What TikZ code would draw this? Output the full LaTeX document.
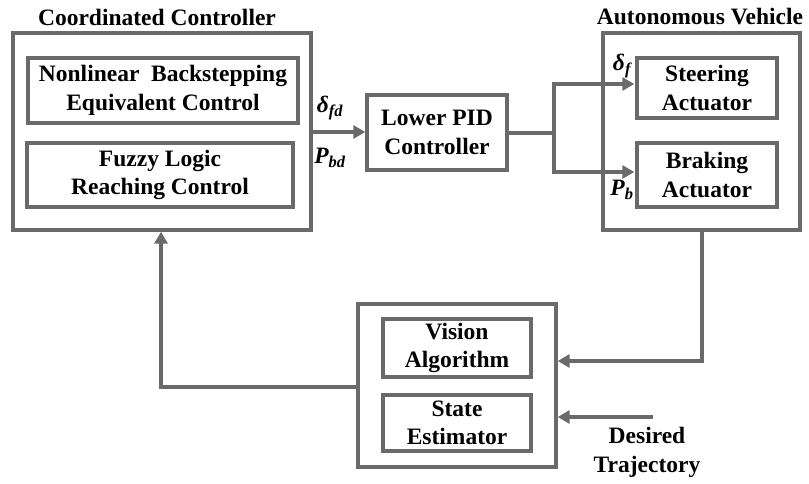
\documentclass[tikz,border=0pt]{standalone}
\usepackage{fontspec}
\setmainfont{Liberation Serif}
\usetikzlibrary{arrows.meta}
\definecolor{lc}{HTML}{6A6A6A}
\tikzset{
  box/.style={draw=lc, line width=3.4pt, align=center, inner sep=0pt,
    font=\fontsize{23.5}{28.5}\selectfont\bfseries, text=black},
  conn/.style={draw=lc, line width=3.4pt},
  arr/.style={conn, -{Triangle[length=12pt,width=13pt]}},
  lbl/.style={font=\fontsize{23.5}{29}\selectfont\bfseries, text=black, align=center, inner sep=0pt},
  sym/.style={font=\fontsize{23.5}{26}\selectfont\bfseries\itshape, text=black, inner sep=0pt}
}
\begin{document}
\begin{tikzpicture}[x=1pt,y=-1pt]
\useasboundingbox (0,0) rectangle (809,483);
% outer boxes
\node[box, minimum width=298pt, minimum height=197pt] (cc) at (162,131.5) {};
\node[box, minimum width=197pt, minimum height=197pt] (av) at (701.5,131.5) {};
\node[box, minimum width=198pt, minimum height=163pt] (est) at (457,385.5) {};
% inner boxes
\node[box, minimum width=270pt, minimum height=65pt] (nbs) at (163,90.5) {Nonlinear\ \ Backstepping\\Equivalent Control};
\node[box, minimum width=266pt, minimum height=64pt] (flc) at (160,175) {Fuzzy Logic\\Reaching Control};
\node[box, minimum width=140pt, minimum height=75pt] (pid) at (437,132.5) {Lower PID\\Controller};
\node[box, minimum width=140pt, minimum height=60pt] (str) at (707,88) {Steering\\Actuator};
\node[box, minimum width=140pt, minimum height=64pt] (brk) at (707,175) {Braking\\Actuator};
\node[box, minimum width=148pt, minimum height=58pt] (vis) at (457,348) {Vision\\Algorithm};
\node[box, minimum width=148pt, minimum height=56pt] (sta) at (457,423) {State\\Estimator};
% titles
\node[lbl] (tcc) at (157,17) {Coordinated Controller};
\node[lbl] (tav) at (700,17) {Autonomous Vehicle};
\node[lbl] (des) at (647,452) {Desired\\Trajectory};
% signal labels
\node[sym] (dfd) at (330,108) {δ\textsubscript{fd}};
\node[sym] (pbd) at (330,158) {P\textsubscript{bd}};
\node[sym] (df) at (622,66) {δ\textsubscript{f}};
\node[sym] (pb) at (622,190) {P\textsubscript{b}};
% junction coordinates
\coordinate (j1) at (554,133);
\coordinate (dstart) at (653,417);
% connectors
\draw[arr] (cc.east |- 0,132) -- (pid.west |- 0,132);
\draw[conn] (pid.east |- j1) -- (j1);
\draw[arr] (j1) |- ([xshift=-1pt]str.west |- 0,84);
\draw[arr] (j1) |- ([xshift=-1pt]brk.west |- 0,172);
\draw[arr] (av.south -| 702,0) |- (est.east |- 0,361);
\draw[arr] (dstart) -- (est.east |- dstart);
\draw[arr] (est.west |- 0,387) -| (cc.south -| 161,0);
\end{tikzpicture}
\end{document}
